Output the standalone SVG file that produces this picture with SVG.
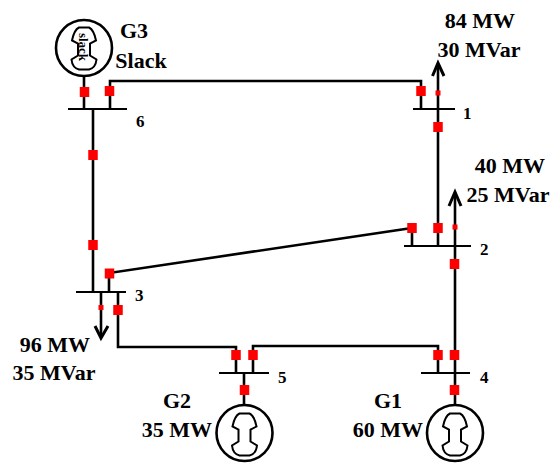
<svg xmlns="http://www.w3.org/2000/svg" width="555" height="463" viewBox="0 0 555 463">
<style>
.w{fill:none;stroke:#000;stroke-width:2.6}
.a{fill:none;stroke:#000;stroke-width:3}
.b{fill:none;stroke:#000;stroke-width:2}
.c{fill:#fff;stroke:#000;stroke-width:2.6}
.g{fill:none;stroke:#000;stroke-width:2}
.r{fill:#f00}
text{font-family:"Liberation Serif","Times New Roman",serif;font-weight:bold;fill:#000}
.t{font-size:22px;text-anchor:middle}
.n{font-size:17px}
</style>
<defs>
<path id="glyph" d="M-5,-20H5C9,-18 11,-12 12,-7L6,-4V8L12.500,12C12,17 9,21 5,22H-5C-9,21 -12,17 -12.500,12L-6,8V-4L-12,-7C-11,-12 -9,-18 -5,-20Z"/>
<rect id="s" x="-4.750" y="-5" width="9.500" height="10" class="r"/>
<rect id="m" x="-2.500" y="-2.500" width="5" height="5" class="r"/>
</defs>
<rect width="555" height="463" fill="#fff"/>
<g id="connectors">
<path class="w" d="M84,76V109"/>
<path class="w" d="M110,109V81H421V109"/>
<path class="w" d="M93,109V292"/>
<path class="w" d="M438,109V246"/>
<path class="w" d="M438,109V64"/><path class="a" d="M432.500,76L438,63L444,76"/>
<path class="w" d="M455,373V193"/><path class="a" d="M449,206L455,192L461,206"/>
<path class="w" d="M412,246V228L109,273V292"/>
<path class="w" d="M101,292V337"/><path class="a" d="M95,326L101,338L108,326"/>
<path class="w" d="M118,292V347H236V373"/>
<path class="w" d="M253,373V346H438V373"/>
<path class="w" d="M244,373V405"/>
<path class="w" d="M455,373V405"/>
<use href="#s" x="84.500" y="92"/>
<use href="#s" x="109.500" y="91"/>
<use href="#s" x="421" y="91"/>
<use href="#m" x="438" y="93"/>
<use href="#s" x="438" y="127"/>
<use href="#s" x="93" y="155"/>
<use href="#s" x="93" y="245"/>
<use href="#s" x="412" y="228"/>
<use href="#s" x="438" y="228"/>
<use href="#m" x="455" y="227"/>
<use href="#s" x="454.500" y="264"/>
<use href="#s" x="109.500" y="273.500"/>
<use href="#m" x="101" y="307.500"/>
<use href="#s" x="118" y="310"/>
<use href="#s" x="236" y="355"/>
<use href="#s" x="253" y="355"/>
<use href="#s" x="438" y="355"/>
<use href="#s" x="454.500" y="355"/>
<use href="#s" x="244.500" y="390"/>
<use href="#s" x="454.500" y="390"/>
</g>
<g id="bus6"><path class="b" d="M68,109H127"/><text class="n" x="136" y="127">6</text></g>
<g id="bus1"><path class="b" d="M413,109H455"/><text class="n" x="463" y="119">1</text></g>
<g id="bus2"><path class="b" d="M404,246H471"/><text class="n" x="480" y="255">2</text></g>
<g id="bus3"><path class="b" d="M76,292H126"/><text class="n" x="135" y="301">3</text></g>
<g id="bus5"><path class="b" d="M219,373H269"/><text class="n" x="278" y="383">5</text></g>
<g id="bus4"><path class="b" d="M421,373H470"/><text class="n" x="480" y="383">4</text></g>
<g id="G3">
<circle class="c" cx="84" cy="48" r="28"/>
<use href="#glyph" x="84" y="47.500" class="g"/>
<text x="0" y="0" font-size="13" text-anchor="middle" transform="translate(79 47) rotate(90)">slack</text>
<text class="t" x="134" y="38">G3</text>
<text class="t" x="141" y="68">Slack</text>
</g>
<g id="load1"><text class="t" x="480" y="28">84 MW</text><text class="t" x="479" y="57">30 MVar</text></g>
<g id="load2"><text class="t" x="510" y="173">40 MW</text><text class="t" x="508" y="202">25 MVar</text></g>
<g id="load3"><text class="t" x="55" y="352">96 MW</text><text class="t" x="54" y="380">35 MVar</text></g>
<g id="G2">
<circle class="c" cx="244.500" cy="433" r="28"/>
<use href="#glyph" x="244.500" y="433.500" class="g"/>
<text class="t" x="177" y="408">G2</text>
<text class="t" x="177" y="437">35 MW</text>
</g>
<g id="G1">
<circle class="c" cx="455" cy="433" r="28"/>
<use href="#glyph" x="455" y="433.500" class="g"/>
<text class="t" x="388" y="408">G1</text>
<text class="t" x="388" y="437">60 MW</text>
</g>
</svg>
